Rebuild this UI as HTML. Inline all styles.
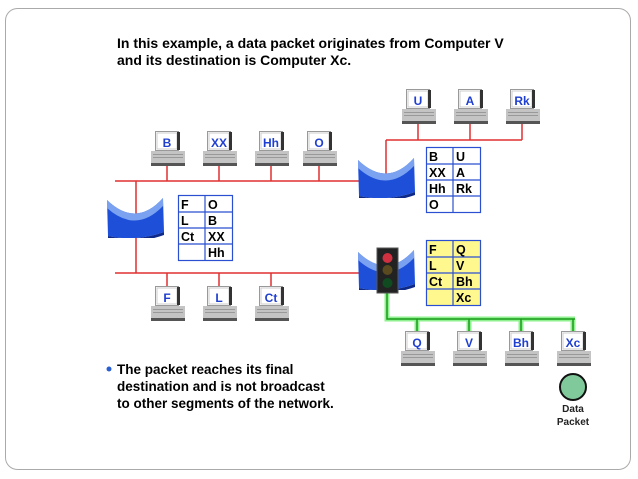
<!DOCTYPE html>
<html><head><style>
html,body{margin:0;padding:0;background:#fff;}
svg{display:block;font-family:"Liberation Sans",Arial,sans-serif;}
.lbl{fill:#1f3fd0;font-weight:bold;font-size:12px;text-anchor:middle;}
.t{font-weight:bold;font-size:12.5px;fill:#000;}
</style></head><body>
<svg width="638" height="479" viewBox="0 0 638 479">
<defs>
<symbol id="pc" viewBox="0 0 36 38" width="36" height="38">
  <rect x="5.5" y="0.5" width="23" height="19" fill="#fff" stroke="#999"/>
  <rect x="7" y="2" width="20" height="16" fill="#fff" stroke="#ccc"/>
  <rect x="27" y="1" width="3" height="18" fill="#333"/>
  <rect x="1" y="20" width="34" height="12" fill="#c4c4c4"/>
  <rect x="3" y="23" width="30" height="1" fill="#999"/>
  <rect x="3" y="26" width="30" height="1" fill="#999"/>
  <rect x="1" y="32" width="34" height="3" fill="#555"/>
</symbol>
<symbol id="rt" viewBox="0 0 58 40" width="58" height="40">
  <path d="M0,2 Q29,30 56,0 L57,34 Q29,44 1,38 Z" fill="#1e4fd8"/>
  <path d="M0,2 Q29,30 56,0 L56,8 Q29,36 0,10 Z" fill="#7aa2f0"/>
  <path d="M1,38 Q29,44 57,34 L57,37 Q29,47 1,40 Z" fill="#0d2a8a"/>
</symbol>
</defs>
<rect x="5.5" y="8.5" width="625" height="461" rx="12" fill="#fff" stroke="#aaa"/>
<text x="117" y="48" font-size="14" font-weight="bold">In this example, a data packet originates from Computer V</text>
<text x="117" y="65" font-size="14" font-weight="bold">and its destination is Computer Xc.</text>

<g stroke="#e03030" stroke-width="1.5" fill="none">
<line x1="115" y1="181" x2="362" y2="181"/>
<line x1="115" y1="273" x2="362" y2="273"/>
<line x1="136" y1="181" x2="136" y2="273"/>
<line x1="167" y1="165" x2="167" y2="181"/><line x1="219" y1="165" x2="219" y2="181"/>
<line x1="271" y1="165" x2="271" y2="181"/><line x1="319" y1="165" x2="319" y2="181"/>
<line x1="167" y1="273" x2="167" y2="288"/><line x1="219" y1="273" x2="219" y2="288"/>
<line x1="271" y1="273" x2="271" y2="288"/>
<line x1="386" y1="175" x2="386" y2="140"/>
<line x1="386" y1="140" x2="522" y2="140"/>
<line x1="418" y1="124" x2="418" y2="140"/><line x1="470" y1="124" x2="470" y2="140"/>
<line x1="522" y1="124" x2="522" y2="140"/>
</g>
<g stroke="#8ef08e" stroke-width="5" fill="none"><polyline points="387,292 387,319 575,319"/>
<line x1="417" y1="319" x2="417" y2="332"/><line x1="469" y1="319" x2="469" y2="332"/><line x1="521" y1="319" x2="521" y2="332"/><line x1="573" y1="319" x2="573" y2="332"/></g>
<g stroke="#1a9a1a" stroke-width="1.5" fill="none"><polyline points="387,292 387,319 575,319"/>
<line x1="417" y1="319" x2="417" y2="332"/><line x1="469" y1="319" x2="469" y2="332"/><line x1="521" y1="319" x2="521" y2="332"/><line x1="573" y1="319" x2="573" y2="332"/></g>

<use href="#rt" x="107" y="198"/>
<use href="#rt" x="358" y="158"/>
<use href="#rt" x="358" y="250"/>
<rect x="377" y="248" width="21" height="45" fill="#222" stroke="#555"/>
<circle cx="387.5" cy="258" r="5" fill="#d03040"/>
<circle cx="387.5" cy="270" r="5" fill="#5a4a20"/>
<circle cx="387.5" cy="283" r="5" fill="#104a20"/>

<g>
<use href="#pc" x="150" y="131"/><text class="lbl" x="167" y="147">B</text>
<use href="#pc" x="202" y="131"/><text class="lbl" x="219" y="147">XX</text>
<use href="#pc" x="254" y="131"/><text class="lbl" x="271" y="147">Hh</text>
<use href="#pc" x="302" y="131"/><text class="lbl" x="319" y="147">O</text>
<use href="#pc" x="150" y="286"/><text class="lbl" x="167" y="302">F</text>
<use href="#pc" x="202" y="286"/><text class="lbl" x="219" y="302">L</text>
<use href="#pc" x="254" y="286"/><text class="lbl" x="271" y="302">Ct</text>
<use href="#pc" x="401" y="89"/><text class="lbl" x="418" y="105">U</text>
<use href="#pc" x="453" y="89"/><text class="lbl" x="470" y="105">A</text>
<use href="#pc" x="505" y="89"/><text class="lbl" x="522" y="105">Rk</text>
<use href="#pc" x="400" y="331"/><text class="lbl" x="417" y="347">Q</text>
<use href="#pc" x="452" y="331"/><text class="lbl" x="469" y="347">V</text>
<use href="#pc" x="504" y="331"/><text class="lbl" x="521" y="347">Bh</text>
<use href="#pc" x="556" y="331"/><text class="lbl" x="573" y="347">Xc</text>
</g>

<g stroke="#2a4fd0" stroke-width="1.2">
<rect x="178.5" y="195.5" width="54" height="65" fill="#fff"/>
<line x1="205" y1="195" x2="205" y2="260"/>
<line x1="178" y1="212" x2="232" y2="212"/><line x1="178" y1="228" x2="232" y2="228"/><line x1="178" y1="244" x2="232" y2="244"/>
<rect x="426.5" y="147.5" width="54" height="65" fill="#fff"/>
<line x1="453" y1="147" x2="453" y2="212"/>
<line x1="426" y1="164" x2="480" y2="164"/><line x1="426" y1="180" x2="480" y2="180"/><line x1="426" y1="196" x2="480" y2="196"/>
<rect x="426.5" y="240.5" width="54" height="65" fill="#fff88e"/>
<line x1="453" y1="240" x2="453" y2="305"/>
<line x1="426" y1="257" x2="480" y2="257"/><line x1="426" y1="273" x2="480" y2="273"/><line x1="426" y1="289" x2="480" y2="289"/>
</g>
<g>
<text class="t" x="181" y="209">F</text><text class="t" x="208" y="209">O</text>
<text class="t" x="181" y="225">L</text><text class="t" x="208" y="225">B</text>
<text class="t" x="181" y="241">Ct</text><text class="t" x="208" y="241">XX</text>
<text class="t" x="208" y="257">Hh</text>
<text class="t" x="429" y="161">B</text><text class="t" x="456" y="161">U</text>
<text class="t" x="429" y="177">XX</text><text class="t" x="456" y="177">A</text>
<text class="t" x="429" y="193">Hh</text><text class="t" x="456" y="193">Rk</text>
<text class="t" x="429" y="209">O</text>
<text class="t" x="429" y="254">F</text><text class="t" x="456" y="254">Q</text>
<text class="t" x="429" y="270">L</text><text class="t" x="456" y="270">V</text>
<text class="t" x="429" y="286">Ct</text><text class="t" x="456" y="286">Bh</text>
<text class="t" x="456" y="302">Xc</text>
</g>

<circle cx="573" cy="387" r="13" fill="#7fc99a" stroke="#111" stroke-width="2"/>
<text x="573" y="412" font-size="10" font-weight="bold" text-anchor="middle" fill="#222">Data</text>
<text x="573" y="425" font-size="10" font-weight="bold" text-anchor="middle" fill="#222">Packet</text>

<circle cx="109" cy="369" r="2.5" fill="#2a5fd0"/>
<text x="117" y="374" font-size="13.5" font-weight="bold">The packet reaches its final</text>
<text x="117" y="391" font-size="13.5" font-weight="bold">destination and is not broadcast</text>
<text x="117" y="408" font-size="13.5" font-weight="bold">to other segments of the network.</text>
</svg>
</body></html>
